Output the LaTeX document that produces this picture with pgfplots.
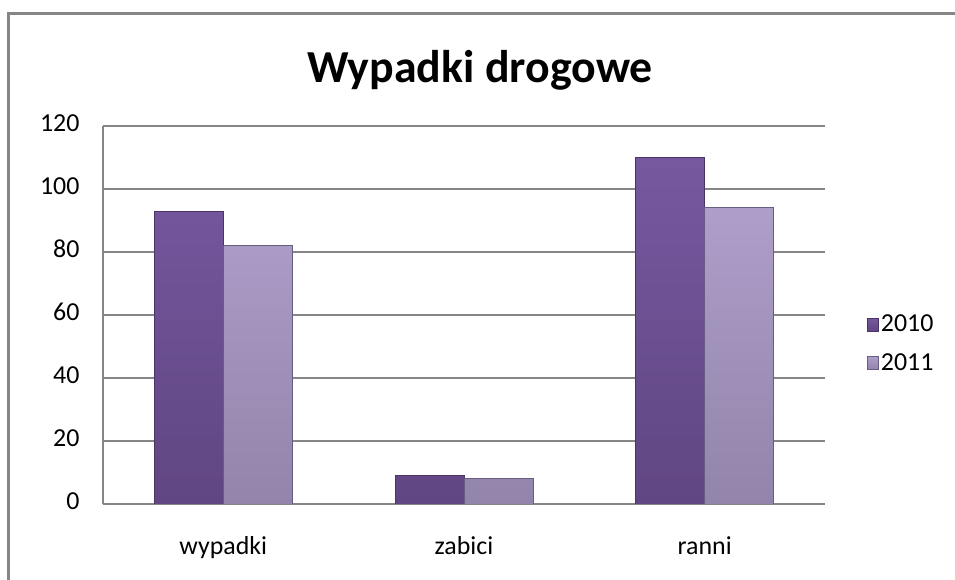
\documentclass[border=0pt]{standalone}
\usepackage{pgfplots}
\pgfplotsset{compat=1.18}
\usepackage{fontspec}
\setmainfont{Carlito}
\definecolor{gridgray}{RGB}{134,134,134}
\definecolor{aTop}{RGB}{118,88,160}
\definecolor{aBot}{RGB}{96,70,130}
\definecolor{aEdge}{RGB}{74,52,104}
\definecolor{bTop}{RGB}{174,158,202}
\definecolor{bBot}{RGB}{146,132,170}
\definecolor{bEdge}{RGB}{104,92,128}
\begin{document}
\begin{tikzpicture}
\useasboundingbox (0,0) rectangle (955bp,580bp);
\fill[gridgray] (6.5bp,0bp) rectangle (9.5bp,567.5bp);
\fill[gridgray] (6.5bp,564.5bp) rectangle (955bp,567.5bp);
\node[font=\fontsize{46}{52}\selectfont\bfseries] at (480bp,510bp) {Wypadki drogowe};
\begin{axis}[
  at={(103bp,76bp)}, anchor=south west,
  scale only axis, width=722bp, height=378bp,
  ybar=0pt, bar width=69bp,
  xmin=-0.5, xmax=2.5, ymin=0, ymax=120,
  xtick={0,1,2}, xticklabels={wypadki,zabici,ranni},
  ytick={0,20,...,120},
  major tick length=0pt,
  axis x line*=bottom, axis y line*=left,
  axis line style={gridgray, line width=1.5bp},
  ymajorgrids, grid style={gridgray, line width=1.2bp},
  tick label style={font=\fontsize{26}{30}\selectfont},
  typeset ticklabels with strut,
  /pgf/number format/assume math mode=true,
  xticklabel style={yshift=-26bp},
  yticklabel style={xshift=-20bp},
  legend style={at={(1.058,0.425)}, anchor=west, draw=none, fill=none,
    font=\fontsize{26}{30}\selectfont, row sep=16bp, inner xsep=0pt},
  legend image code/.code={\fill[#1] (0bp,-7bp) rectangle (11bp,6bp);},
]
\addplot[top color=aTop, bottom color=aBot, draw=aEdge, line width=0.8bp] coordinates {(0,93) (1,9) (2,110)};
\addlegendentry{2010}
\addplot[top color=bTop, bottom color=bBot, draw=bEdge, line width=0.8bp] coordinates {(0,82) (1,8) (2,94)};
\addlegendentry{2011}
\end{axis}
\end{tikzpicture}
\end{document}
